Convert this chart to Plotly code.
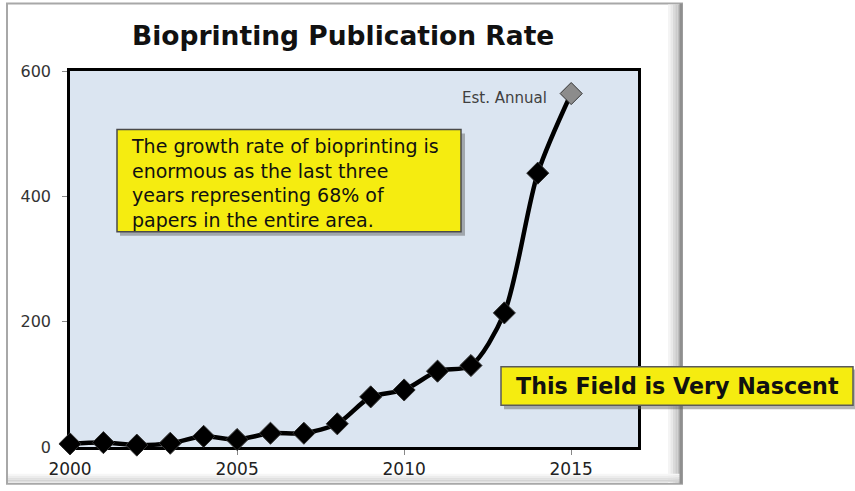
import plotly.graph_objects as go

years = [2000, 2001, 2002, 2003, 2004, 2005, 2006, 2007, 2008, 2009,
         2010, 2011, 2012, 2013, 2014, 2015]
papers = [5, 7, 3, 6, 17, 12, 22, 22, 37, 80, 91, 121, 130, 214, 437, 564]
marker_colors = ["#000000"] * 15 + ["#8c8c8c"]
x_ticks = [2000, 2005, 2010, 2015]
y_ticks = [0, 200, 400, 600]

title_text = "Bioprinting Publication Rate"
note_text = ("The growth rate of bioprinting is<br>enormous as the last three<br>"
             "years representing 68% of<br>papers in the entire area.")
callout_text = "This Field is Very Nascent"
est_label = "Est. Annual"

L, R, T, B = 70, 638, 71, 450
W, H = 855, 491
FONT = "DejaVu Sans"


def px(x):
    return (x - L) / (R - L)


def py(y):
    return (B - y) / (B - T)


fig = go.Figure()
fig.add_trace(go.Scatter(
    x=years, y=papers, mode="lines+markers",
    line=dict(color="black", width=4.5, shape="spline", smoothing=0.8),
    marker=dict(symbol="diamond", size=17, color=marker_colors,
                line=dict(color="#333333", width=1)),
    cliponaxis=False, showlegend=False, hoverinfo="x+y",
))

shapes = []
# outer frame
shapes.append(dict(type="rect", xref="paper", yref="paper", layer="below",
                   x0=px(7), x1=px(682), y0=py(487), y1=py(3),
                   fillcolor="white", line=dict(color="#a8a8a8", width=2)))
# right shadow gradient
for i, c in enumerate(["#f4f4f4", "#e8e8e8", "#dadada", "#cbcbcb", "#bdbdbd"]):
    shapes.append(dict(type="rect", xref="paper", yref="paper", layer="below",
                       x0=px(668 + i * 2.4), x1=px(670.4 + i * 2.4), y0=py(486), y1=py(4),
                       fillcolor=c, line=dict(width=0)))
# bottom shadow gradient
for i, c in enumerate(["#f6f6f6", "#ececec", "#e0e0e0", "#d4d4d4"]):
    shapes.append(dict(type="rect", xref="paper", yref="paper", layer="below",
                       x0=px(8), x1=px(680), y0=py(479 + i * 2), y1=py(477 + i * 2),
                       fillcolor=c, line=dict(width=0)))
shapes.append(dict(type="line", xref="paper", yref="paper", layer="below",
                   x0=px(681), x1=px(681), y0=py(487), y1=py(3),
                   line=dict(color="#8f8f8f", width=3)))
# plot area background
shapes.append(dict(type="rect", xref="paper", yref="paper", layer="below",
                   x0=0, x1=1, y0=0, y1=1,
                   fillcolor="#dbe5f1", line=dict(width=0)))
# note box shadow + box
shapes.append(dict(type="rect", xref="paper", yref="paper", layer="above",
                   x0=px(120), x1=px(465), y0=py(237), y1=py(134),
                   fillcolor="rgba(90,90,90,0.45)", line=dict(width=0)))
shapes.append(dict(type="rect", xref="paper", yref="paper", layer="above",
                   x0=px(117), x1=px(461), y0=py(233), y1=py(130),
                   fillcolor="#f5ec10", line=dict(color="#4a4a4a", width=1.5)))
# callout box shadow + box
shapes.append(dict(type="rect", xref="paper", yref="paper", layer="above",
                   x0=px(504), x1=px(856), y0=py(412), y1=py(372),
                   fillcolor="rgba(90,90,90,0.45)", line=dict(width=0)))
shapes.append(dict(type="rect", xref="paper", yref="paper", layer="above",
                   x0=px(501), x1=px(853), y0=py(408), y1=py(369),
                   fillcolor="#f5ec10", line=dict(color="#5a5a5a", width=1.5)))

annotations = [
    dict(text="<b>" + title_text + "</b>", xref="paper", yref="paper",
         x=px(343), y=py(35), xanchor="center", yanchor="middle", showarrow=False,
         font=dict(family=FONT, size=26.5, color="#111111")),
    dict(text=note_text, xref="paper", yref="paper", align="left",
         x=px(129), y=py(184), xanchor="left", yanchor="middle", showarrow=False,
         font=dict(family=FONT, size=19, color="#111111")),
    dict(text="<b>" + callout_text + "</b>", xref="paper", yref="paper",
         x=px(677), y=py(389), xanchor="center", yanchor="middle", showarrow=False,
         font=dict(family=FONT, size=22.2, color="#111111")),
    dict(text=est_label, x=years[-1], y=papers[-1], xref="x", yref="y",
         xanchor="right", yanchor="middle", xshift=-22, yshift=-4, showarrow=False,
         font=dict(family=FONT, size=15, color="#404040")),
]

fig.update_layout(
    width=W, height=H,
    margin=dict(l=L, r=W - R, t=T, b=H - B),
    paper_bgcolor="white", plot_bgcolor="rgba(0,0,0,0)",
    shapes=shapes, annotations=annotations, showlegend=False,
    xaxis=dict(range=[2000, 2017], tickvals=x_ticks, ticks="outside", ticklen=5,
               tickcolor="#888888", showgrid=False, zeroline=False,
               showline=True, linecolor="black", linewidth=2.5, mirror=True,
               layer="below traces",
               tickfont=dict(family=FONT, size=17, color="#222222")),
    yaxis=dict(range=[0, 600], tickvals=y_ticks, ticks="outside", ticklen=5,
               tickcolor="#888888", showgrid=False, zeroline=False,
               showline=True, linecolor="black", linewidth=2.5, mirror=True,
               layer="below traces", ticklabelstandoff=8,
               tickfont=dict(family=FONT, size=16, color="#333333")),
)

fig.write_html("out.html", config={"displayModeBar": False},
               post_script="document.body.style.margin='0';")
